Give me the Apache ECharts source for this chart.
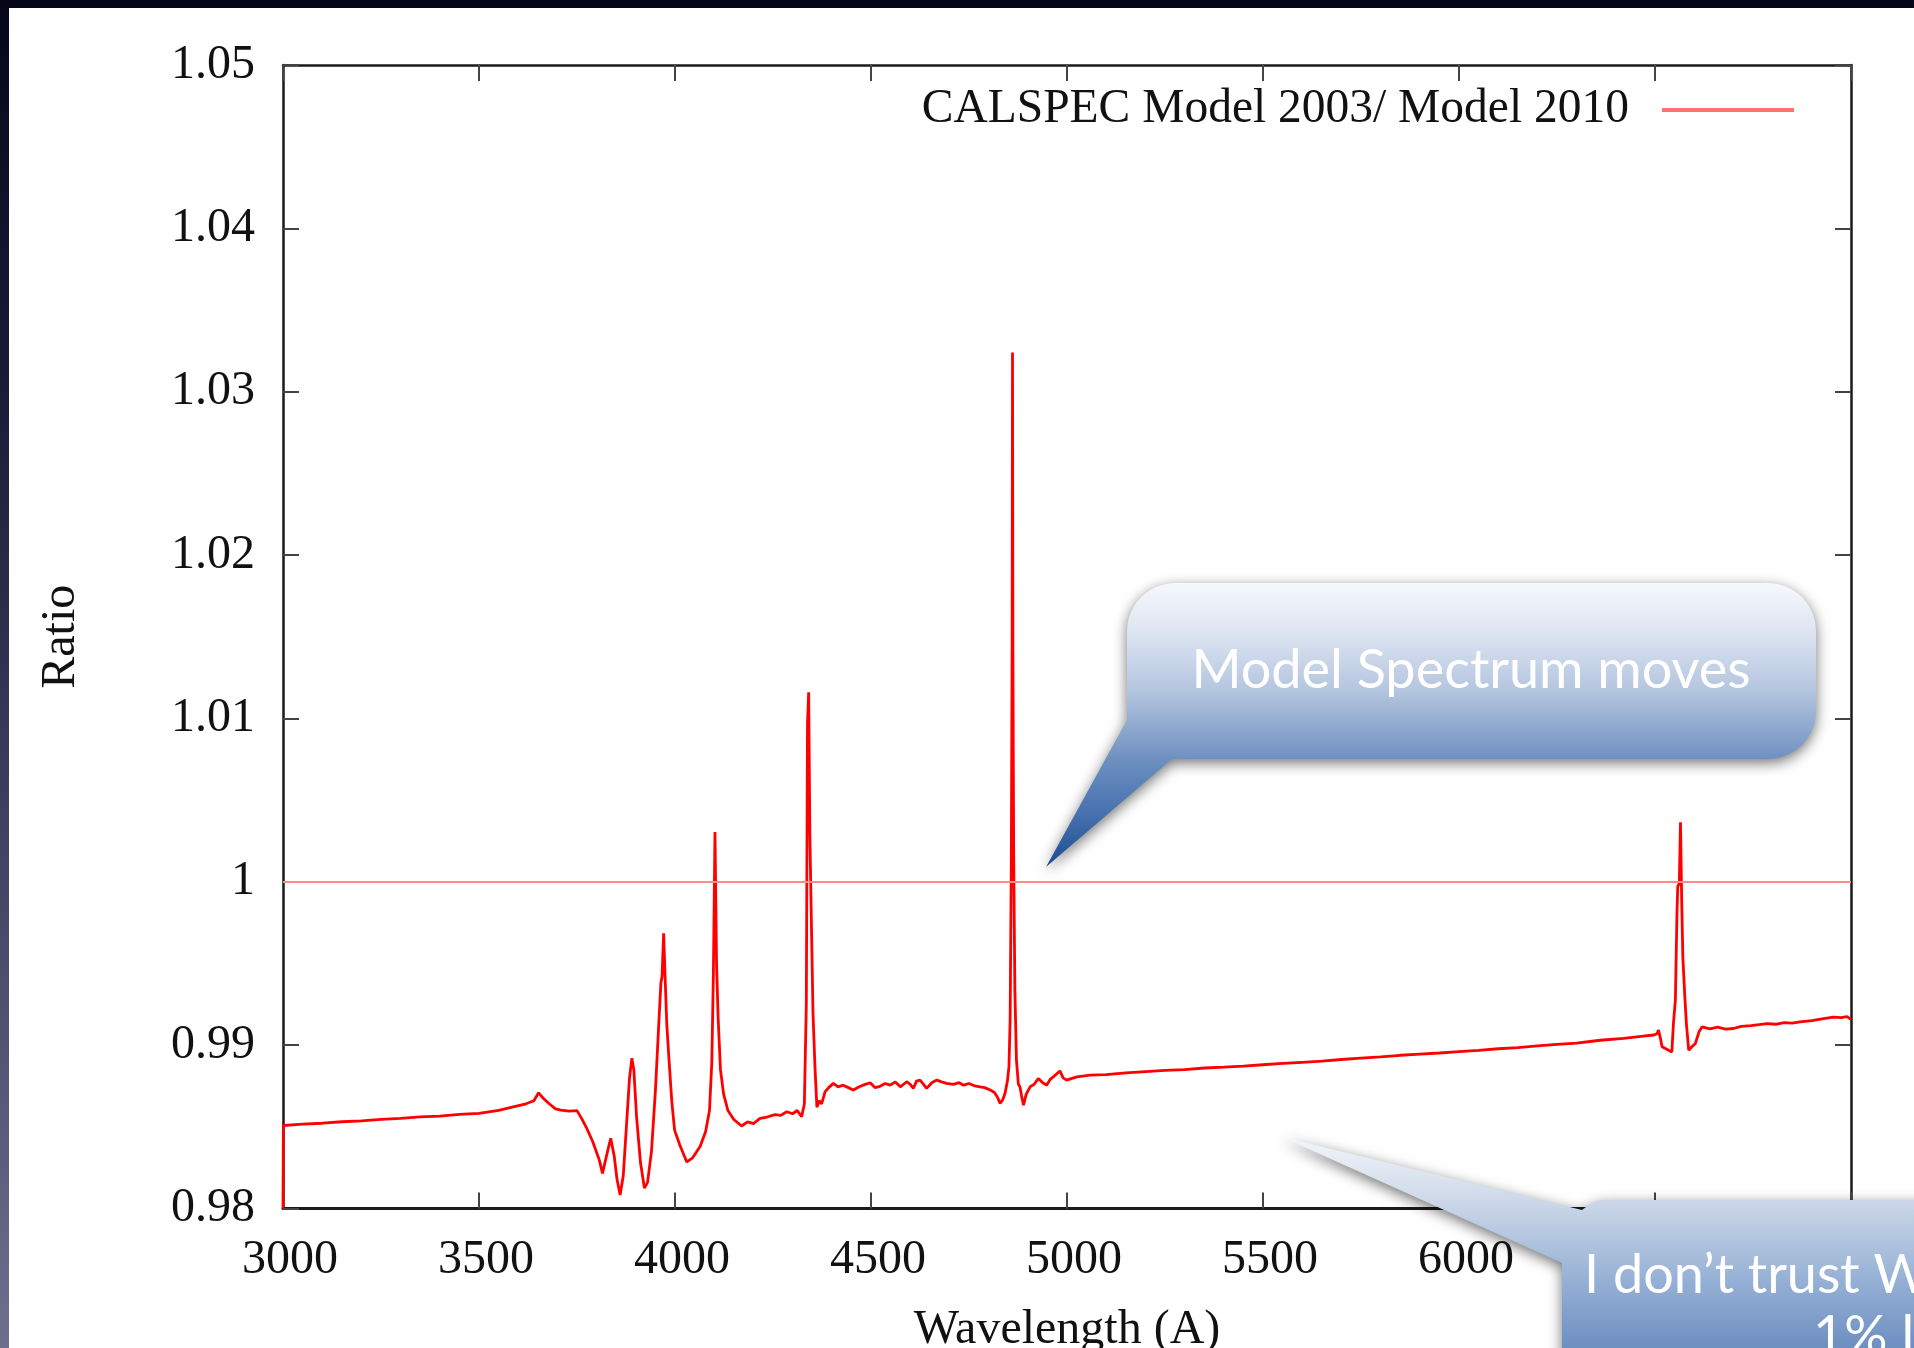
<!DOCTYPE html>
<html>
<head>
<meta charset="utf-8">
<title>CALSPEC Model 2003/ Model 2010</title>
<script src="https://cdn.jsdelivr.net/npm/echarts@6/dist/echarts.min.js"></script>
<style>
  html, body { margin: 0; padding: 0; width: 1914px; height: 1348px; overflow: hidden; }
  body { background: linear-gradient(to bottom, #06061a 0%, #1c1c38 30%, #444464 65%, #6e6e8e 100%); position: relative; }
  #sheet { position: absolute; left: 9px; top: 8px; right: 0; bottom: 0; background: #ffffff; }
  #chart { position: absolute; left: 0; top: 0; width: 1914px; height: 1348px; }
</style>
</head>
<body>
<div id="sheet"></div>
<div id="chart"></div>
<script>
// Flux ratio of the two CALSPEC model spectra, sampled along wavelength (Angstrom)
const wavelength = [
  3000, 3001, 3050, 3100, 3150, 3200, 3250, 3300, 3350, 3400, 3450, 3500, 3550, 3590, 3620, 3640,
  3652, 3665, 3680, 3695, 3709, 3730, 3750, 3762, 3775, 3790, 3807, 3815, 3826, 3836, 3845, 3852,
  3860, 3868, 3876, 3884, 3890, 3895, 3902, 3912, 3922, 3930, 3940, 3950, 3958, 3964, 3967, 3971,
  3975, 3979, 3985, 3992, 3999, 4012, 4030, 4045, 4064, 4078, 4088, 4094, 4098, 4102, 4106, 4110,
  4116, 4124, 4135, 4150, 4170, 4185, 4200, 4217, 4235, 4255, 4270, 4285, 4300, 4312, 4323, 4330,
  4335, 4338, 4341, 4344, 4347, 4352, 4357, 4362, 4368, 4374, 4383, 4392, 4404, 4416, 4429, 4442,
  4455, 4470, 4485, 4498, 4510, 4523, 4536, 4549, 4562, 4575, 4591, 4600, 4608, 4616, 4625, 4634,
  4642, 4655, 4668, 4680, 4693, 4710, 4725, 4736, 4750, 4765, 4778, 4790, 4804, 4815, 4823, 4829,
  4836, 4842, 4848, 4852, 4855, 4858, 4860, 4861, 4862, 4864, 4867, 4871, 4876, 4880, 4884, 4889,
  4896, 4906, 4916, 4927, 4938, 4948, 4957, 4965, 4974, 4982, 4990, 4999, 5025, 5059, 5100, 5150,
  5200, 5250, 5300, 5350, 5400, 5450, 5500, 5550, 5600, 5650, 5700, 5750, 5800, 5850, 5900, 5950,
  6000, 6050, 6100, 6150, 6200, 6250, 6300, 6360, 6420, 6470, 6497, 6505, 6509, 6514, 6518, 6530,
  6543, 6547, 6552, 6556, 6558, 6562, 6565, 6568, 6571, 6576, 6580, 6586, 6594, 6603, 6612, 6620,
  6640, 6660, 6680, 6700, 6720, 6745, 6765, 6785, 6810, 6830, 6850, 6870, 6900, 6930, 6955, 6975,
  6990, 7000
];
const ratio = [
  0.98000, 0.98508, 0.98516, 0.98522, 0.98531, 0.98537, 0.98546, 0.98552, 0.98561, 0.98566, 0.98576, 0.98582, 0.98601, 0.98624, 0.98641, 0.98660,
  0.98708, 0.98672, 0.98640, 0.98610, 0.98602, 0.98596, 0.98599, 0.98550, 0.98490, 0.98410, 0.98296, 0.98215, 0.98330, 0.98430, 0.98320, 0.98180,
  0.98083, 0.98200, 0.98500, 0.98800, 0.98920, 0.98850, 0.98560, 0.98280, 0.98125, 0.98160, 0.98350, 0.98720, 0.99100, 0.99380, 0.99420, 0.99685,
  0.99400, 0.99130, 0.98900, 0.98650, 0.98480, 0.98390, 0.98285, 0.98310, 0.98380, 0.98470, 0.98600, 0.98900, 0.99450, 1.00305, 0.99500, 0.99170,
  0.98850, 0.98700, 0.98600, 0.98545, 0.98505, 0.98530, 0.98520, 0.98552, 0.98560, 0.98575, 0.98570, 0.98592, 0.98580, 0.98600, 0.98562, 0.98640,
  0.99250, 1.00970, 1.01160, 1.00300, 0.99880, 0.99200, 0.98870, 0.98620, 0.98660, 0.98640, 0.98715, 0.98740, 0.98766, 0.98745, 0.98755, 0.98740,
  0.98725, 0.98745, 0.98760, 0.98770, 0.98740, 0.98748, 0.98765, 0.98755, 0.98775, 0.98745, 0.98776, 0.98760, 0.98735, 0.98780, 0.98786, 0.98760,
  0.98735, 0.98770, 0.98786, 0.98775, 0.98766, 0.98760, 0.98770, 0.98755, 0.98765, 0.98750, 0.98745, 0.98740, 0.98725, 0.98710, 0.98680, 0.98644,
  0.98665, 0.98705, 0.98780, 0.98870, 0.99160, 1.00150, 1.01420, 1.03240, 1.01420, 1.00160, 0.99340, 0.98910, 0.98760, 0.98745, 0.98690, 0.98633,
  0.98700, 0.98745, 0.98760, 0.98796, 0.98770, 0.98755, 0.98790, 0.98806, 0.98825, 0.98842, 0.98800, 0.98786, 0.98806, 0.98816, 0.98820, 0.98830,
  0.98838, 0.98845, 0.98850, 0.98860, 0.98865, 0.98872, 0.98880, 0.98888, 0.98895, 0.98902, 0.98912, 0.98920, 0.98928, 0.98938, 0.98945, 0.98952,
  0.98960, 0.98968, 0.98978, 0.98985, 0.98995, 0.99005, 0.99012, 0.99030, 0.99042, 0.99055, 0.99062, 0.99070, 0.99092, 0.99040, 0.98990, 0.98975,
  0.98958, 0.99132, 0.99275, 0.99800, 0.99970, 0.99990, 1.00365, 0.99900, 0.99540, 0.99300, 0.99134, 0.98969, 0.98990, 0.99010, 0.99080, 0.99112,
  0.99100, 0.99110, 0.99098, 0.99102, 0.99115, 0.99120, 0.99125, 0.99132, 0.99128, 0.99138, 0.99135, 0.99142, 0.99150, 0.99162, 0.99172, 0.99168,
  0.99175, 0.99157
];

// Axis ranges and tick steps
const xRange = [3000, 7000];
const xStep = 500;
const yRange = [0.98, 1.05];
const yStep = 0.01;
const unityLevel = 1;

const seriesName = 'CALSPEC Model 2003/ Model 2010';
const xTitle = 'Wavelength (A)';
const yTitle = 'Ratio';
const noteTop = 'Model Spectrum moves';
const noteBottomLines = ['I don\u2019t trust W', '1% l'];

const serif = '"Liberation Serif", "DejaVu Serif", serif';
const sans = 'Lato, "Open Sans", sans-serif';

const points = wavelength.map((w, i) => [w, ratio[i]]);

const frameLine = { lineStyle: { color: '#1a1a1a', width: 2.5 } };
const innerTick = { inside: true, length: 16, lineStyle: { color: '#444', width: 2 } };

// Quarter-circle corner, sampled as polygon vertices (angles in degrees, screen y down)
function corner(cx, cy, r, a0, a1) {
  const pts = [];
  const n = 12;
  for (let i = 0; i <= n; i++) {
    const a = (a0 + (a1 - a0) * i / n) * Math.PI / 180;
    pts.push([cx + r * Math.cos(a), cy + r * Math.sin(a)]);
  }
  return pts;
}

// Speech bubble above the spectrum: rounded box with a tail pointing down-left
const bubbleTop = [].concat(
  [[1175, 583], [1768, 583]],
  corner(1768, 631, 48, -90, 0),
  [[1816, 711]],
  corner(1768, 711, 48, 0, 90),
  [[1172, 759], [1046, 867], [1127, 720], [1127, 631]],
  corner(1175, 631, 48, 180, 270)
);

// Speech bubble in the lower-right corner, tail pointing up-left
const bubbleBottom = [
  [1282, 1137], [1582, 1210], [1590, 1204], [1598, 1201], [1607, 1200],
  [2000, 1200], [2000, 1400], [1562, 1400], [1562, 1263]
];

const chart = echarts.init(document.getElementById('chart'), null, { renderer: 'canvas' });

chart.setOption({
  animation: false,
  backgroundColor: 'transparent',
  grid: { left: 283, right: 63, top: 65, bottom: 139.5, containLabel: false, outerBoundsMode: 'none' },
  legend: {
    show: true,
    selectedMode: false,
    right: 115,
    top: 81,
    align: 'right',
    icon: 'rect',
    itemWidth: 132,
    itemHeight: 4,
    textStyle: { fontFamily: serif, fontSize: 47.5, color: '#111', padding: [0, 28, 0, 0] },
    data: [{ name: seriesName, itemStyle: { color: '#ff7272' } }]
  },
  xAxis: [
    {
      type: 'value', position: 'bottom', min: xRange[0], max: xRange[1], interval: xStep,
      axisLine: { onZero: false, lineStyle: { color: '#1a1a1a', width: 3 } },
      axisTick: innerTick,
      splitLine: { show: false },
      axisLabel: {
        fontFamily: serif, fontSize: 48, color: '#111', margin: 28, padding: [0, 0, 0, 14],
        formatter: v => String(v)
      },
      name: xTitle, nameLocation: 'middle', nameGap: 98,
      nameTextStyle: { fontFamily: serif, fontSize: 48, color: '#111' }
    },
    {
      type: 'value', position: 'top', min: xRange[0], max: xRange[1], interval: xStep,
      axisLine: Object.assign({ onZero: false }, frameLine),
      axisTick: innerTick,
      splitLine: { show: false },
      axisLabel: { show: false }
    }
  ],
  yAxis: [
    {
      type: 'value', position: 'left', min: yRange[0], max: yRange[1], interval: yStep,
      axisLine: Object.assign({ show: true, onZero: false }, frameLine),
      axisTick: innerTick,
      splitLine: { show: false },
      axisLabel: {
        fontFamily: serif, fontSize: 48, color: '#111', margin: 28,
        formatter: v => String(parseFloat(v.toFixed(2)))
      },
      name: yTitle, nameLocation: 'middle', nameRotate: 90, nameGap: 198,
      nameTextStyle: { fontFamily: serif, fontSize: 48, color: '#111' }
    },
    {
      type: 'value', position: 'right', min: yRange[0], max: yRange[1], interval: yStep,
      axisLine: Object.assign({ show: true, onZero: false }, frameLine),
      axisTick: innerTick,
      splitLine: { show: false },
      axisLabel: { show: false }
    }
  ],
  series: [
    {
      name: seriesName,
      type: 'line',
      xAxisIndex: 0,
      yAxisIndex: 0,
      data: points,
      showSymbol: false,
      symbol: 'none',
      lineStyle: { color: '#ff0000', width: 2.8 },
      itemStyle: { color: '#ff7272' },
      z: 3,
      markLine: {
        silent: true,
        symbol: 'none',
        label: { show: false },
        lineStyle: { color: '#ff8a8a', width: 2, type: 'solid' },
        data: [{ yAxis: unityLevel }]
      }
    }
  ],
  graphic: [
    {
      type: 'polygon', z: 100,
      shape: { points: bubbleTop },
      style: {
        fill: new echarts.graphic.LinearGradient(0, 583, 0, 867, [
          { offset: 0, color: '#f6f8fc' }, { offset: 0.15, color: '#e1e8f3' },
          { offset: 0.38, color: '#b4c5df' }, { offset: 0.62, color: '#6e90c1' },
          { offset: 0.82, color: '#4570ae' }, { offset: 1, color: '#1d4c94' }
        ], true),
        shadowBlur: 14, shadowColor: 'rgba(0,0,0,0.55)', shadowOffsetY: 4
      }
    },
    {
      type: 'text', z: 101,
      style: {
        text: noteTop, x: 1471, y: 671, textAlign: 'center', textVerticalAlign: 'middle',
        fontFamily: sans, fontSize: 54, fill: '#ffffff',
        shadowBlur: 6, shadowColor: 'rgba(0,0,0,0.55)', shadowOffsetX: 2, shadowOffsetY: 2
      }
    },
    {
      type: 'polygon', z: 100,
      shape: { points: bubbleBottom },
      style: {
        fill: new echarts.graphic.LinearGradient(0, 1137, 0, 1348, [
          { offset: 0, color: '#f3f6fa' }, { offset: 0.3, color: '#cdd8e9' },
          { offset: 0.7, color: '#93aed4' }, { offset: 1, color: '#6d8fc0' }
        ], true),
        shadowBlur: 14, shadowColor: 'rgba(0,0,0,0.55)', shadowOffsetY: 4
      }
    },
    {
      type: 'text', z: 101,
      style: {
        text: noteBottomLines[0], x: 1584, y: 1276, textAlign: 'left', textVerticalAlign: 'middle',
        fontFamily: sans, fontSize: 54, fill: '#ffffff',
        shadowBlur: 6, shadowColor: 'rgba(0,0,0,0.55)', shadowOffsetX: 2, shadowOffsetY: 2
      }
    },
    {
      type: 'text', z: 101,
      style: {
        text: noteBottomLines[1], x: 1813, y: 1337, textAlign: 'left', textVerticalAlign: 'middle',
        fontFamily: sans, fontSize: 54, fill: '#ffffff',
        shadowBlur: 6, shadowColor: 'rgba(0,0,0,0.55)', shadowOffsetX: 2, shadowOffsetY: 2
      }
    }
  ]
});
</script>
</body>
</html>
